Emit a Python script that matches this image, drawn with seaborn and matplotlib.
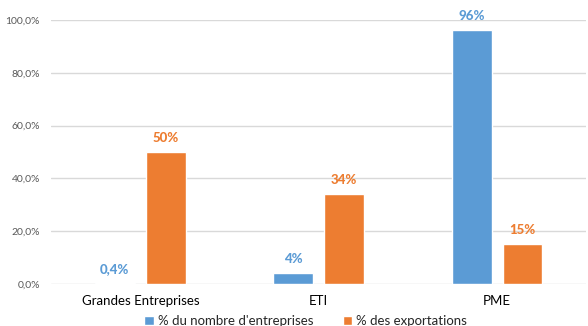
import matplotlib
matplotlib.use("Agg")
import matplotlib.pyplot as plt
import seaborn as sns
import pandas as pd
from matplotlib.patches import Patch

categories = ["Grandes Entreprises", "ETI", "PME"]
series_names = ["% du nombre d'entreprises", "% des exportations"]
nombre = [0.4, 4, 96]
exportations = [50, 34, 15]
labels_nombre = ["0,4%", "4%", "96%"]
labels_export = ["50%", "34%", "15%"]
yticks = [0, 20, 40, 60, 80, 100]
ytick_labels = ["0,0%", "20,0%", "40,0%", "60,0%", "80,0%", "100,0%"]
colors = ["#5B9BD5", "#ED7D31"]

df = pd.DataFrame({
    "cat": categories * 2,
    "serie": [series_names[0]] * 3 + [series_names[1]] * 3,
    "val": nombre + exportations,
})

sns.set_theme(style="white")
plt.rcParams["font.family"] = ["Lato", "DejaVu Sans"]

fig = plt.figure(figsize=(5.88, 3.26), dpi=100)
ax = fig.add_axes([0.087, 0.129, 0.91, 0.81])

sns.barplot(data=df, x="cat", y="val", hue="serie", palette=colors,
            width=0.57, gap=0.216, ax=ax, legend=False, saturation=1)

ax.set_ylim(0, 100)
ax.set_yticks(yticks)
ax.set_yticklabels(ytick_labels, color="#595959", fontsize=7.5)
ax.tick_params(axis="x", labelsize=9.5, colors="#000000", pad=8)
ax.tick_params(axis="y", pad=8, length=0)
ax.tick_params(axis="x", length=0)
ax.set_xlabel("")
ax.set_ylabel("")
for s in ax.spines.values():
    s.set_visible(False)
ax.yaxis.grid(True, color="#D9D9D9", linewidth=1)
ax.set_axisbelow(True)
ax.set_xlim(-0.5, 2.5)

for cont, labs, col in zip(ax.containers, [labels_nombre, labels_export], colors):
    ax.bar_label(cont, labels=labs, padding=6, color=col, fontsize=9.5, fontweight="black")

handles = [Patch(facecolor=c, label=n) for c, n in zip(colors, series_names)]
fig.legend(handles=handles, loc="lower center", bbox_to_anchor=(0.52, -0.04), ncol=2,
           frameon=False, fontsize=9.5, handlelength=0.75, handleheight=0.75,
           handletextpad=0.3, columnspacing=2.2)

fig.savefig("out.png", dpi=100)
